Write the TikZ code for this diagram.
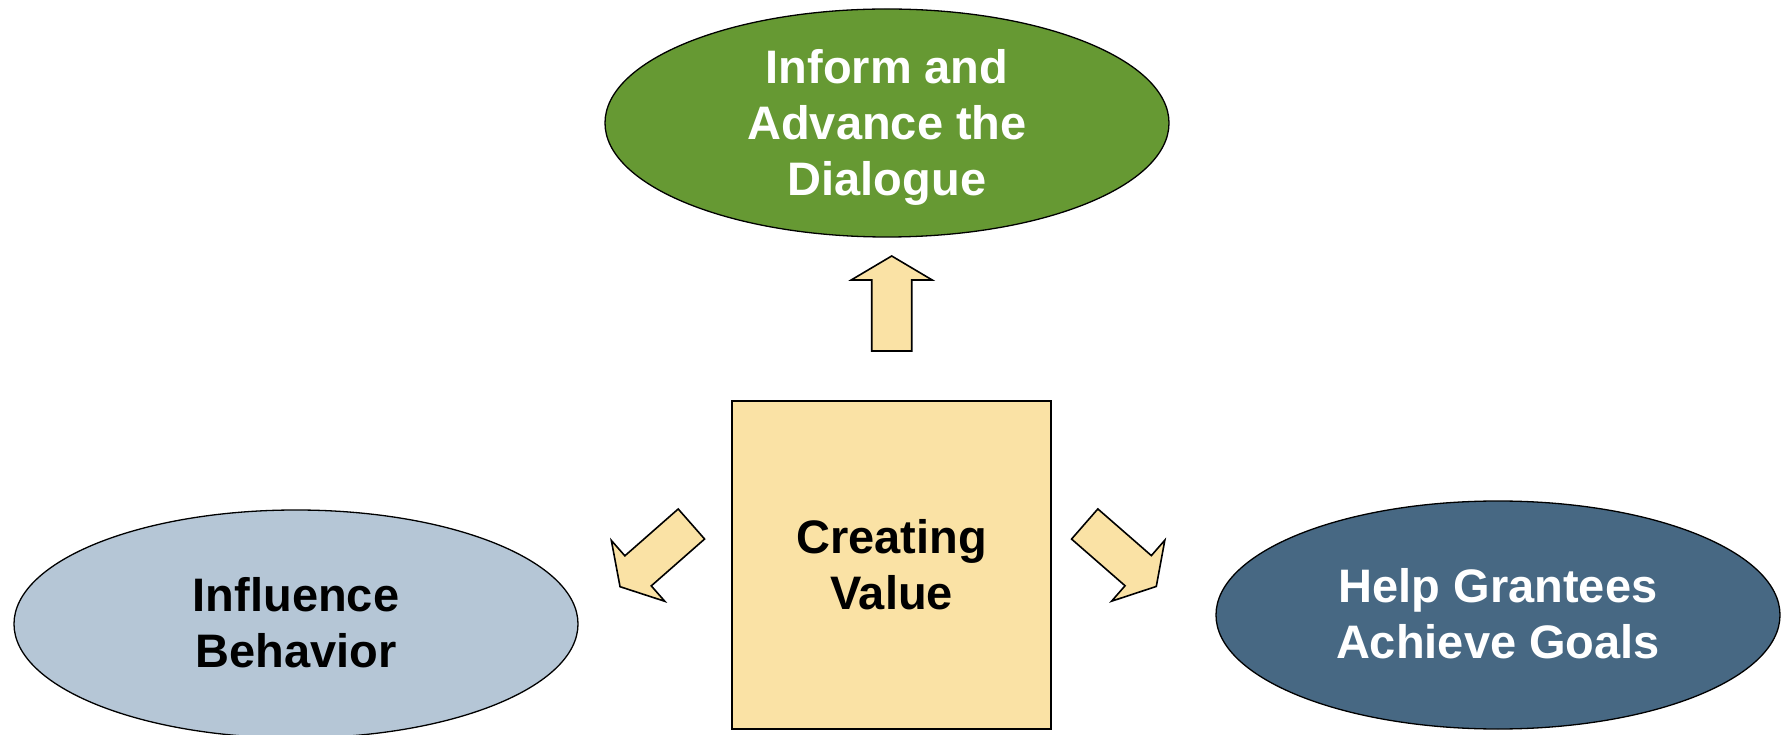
\documentclass[tikz,border=0pt]{standalone}
\usepackage{fontspec}
\setmainfont{Liberation Sans}
\usetikzlibrary{shapes.geometric}

\definecolor{informgreen}{RGB}{102,153,51}
\definecolor{influenceblue}{RGB}{181,198,214}
\definecolor{granteeblue}{RGB}{71,104,131}
\definecolor{valuefill}{RGB}{250,226,165}

\begin{document}
\begin{tikzpicture}[x=1pt,y=1pt,
  goalshape/.style={ellipse, draw=black, line width=1.3pt,
    minimum width=564pt, minimum height=228pt, inner sep=0pt},
  captiontext/.style={font=\bfseries\fontsize{47}{56}\selectfont,
    align=center, inner sep=0pt},
  coresquare/.style={rectangle, draw=black, line width=2pt, fill=valuefill,
    minimum width=319pt, minimum height=328pt, inner sep=0pt},
  arrowbody/.style={draw=black, line width=1.6pt, fill=valuefill, line join=miter},
  % block arrow pointing along +x, tail at the origin
  blockarrow/.pic={
    \draw[arrowbody] (0,-20) -- (71,-20) -- (71,-40.5) -- (95,0)
      -- (71,40.5) -- (71,20) -- (0,20) -- cycle;
  }]
\useasboundingbox (0,0) rectangle (1785,734);

% central square
\node[coresquare] (value) at (891.5,169) {};
\node[captiontext, text=black] (valuetext) at (value.center) {Creating\\Value};

% the three goals
\node[goalshape, fill=informgreen] (inform) at (887,611) {};
\node[captiontext, text=white] (informtext) at (887,606.8) {Inform and\\Advance the\\Dialogue};

\node[goalshape, fill=influenceblue] (influence) at (296,110) {};
\node[captiontext, text=black] (influencetext) at (296,111) {Influence\\Behavior};

\node[goalshape, fill=granteeblue] (grantees) at (1498,119) {};
\node[captiontext, text=white] (granteestext) at (1498,120) {Help Grantees\\Achieve Goals};

% block arrows from the square towards each goal
\pic[rotate=90] at (891.7,383) {blockarrow};
\pic[rotate=221.3] at (691.4,210) {blockarrow};
\pic[rotate=318.9] at (1084.7,210) {blockarrow};
\end{tikzpicture}
\end{document}
